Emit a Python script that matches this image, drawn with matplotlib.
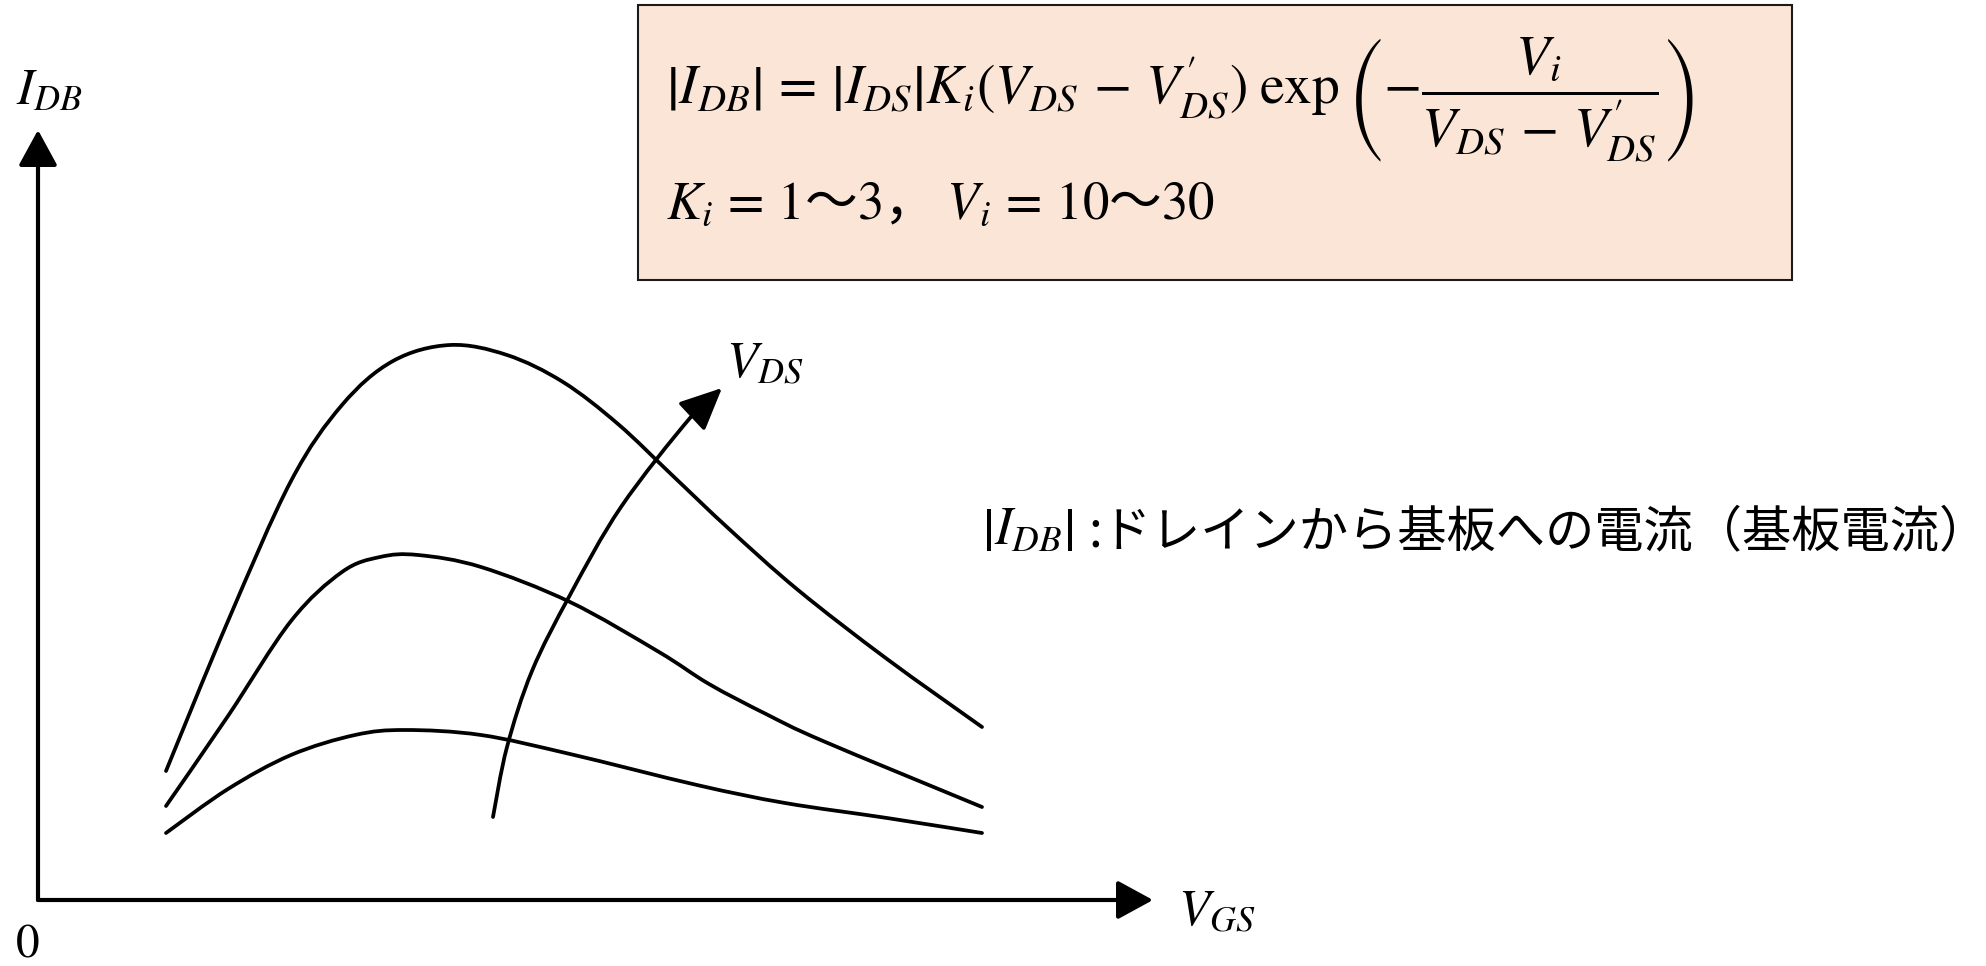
import numpy as np
import matplotlib
matplotlib.use("Agg")
import matplotlib.pyplot as plt
from matplotlib.path import Path
from matplotlib.patches import PathPatch, Rectangle, FancyArrowPatch

plt.rcParams["mathtext.fontset"] = "stix"
plt.rcParams["font.family"] = ["STIXGeneral", "Noto Sans CJK JP", "DejaVu Sans"]

# Substrate-current curves I_DB vs V_GS, one per drain voltage (low -> high)
vgs_low = [12.8, 19.0, 25.3, 31.7, 36.7, 44.3, 53.2, 65.9, 74.7, 84.9, 94.4]
idb_low = [6.7, 11.1, 14.5, 16.5, 17.0, 16.5, 14.6, 11.5, 9.7, 8.2, 6.7]

vgs_mid = [12.8, 19.0, 25.3, 30.4, 34.2, 38.0, 44.3, 53.2, 62.1, 67.1, 72.8, 78.5, 94.4]
idb_mid = [9.4, 18.4, 27.9, 32.8, 34.3, 34.5, 33.3, 29.8, 24.8, 21.6, 18.6, 15.9, 9.3]

vgs_high = [12.8, 19.0, 25.3, 30.4, 35.5, 41.2, 46.9, 52.5, 58.0, 63.5, 69.0, 76.0, 84.9, 94.4]
idb_high = [12.9, 27.9, 41.9, 49.5, 53.9, 55.5, 54.5, 51.8, 47.6, 42.4, 37.2, 31.0, 24.1, 17.3]

# Trend arrow: increasing V_DS
vds_arrow_x = [45.5, 46.9, 49.4, 53.2, 58.3, 65.2, 68.4]
vds_arrow_y = [8.3, 15.3, 22.9, 30.5, 39.3, 48.2, 51.2]

axis_len_x = 111.5
axis_len_y = 77.0

fig = plt.figure(figsize=(19.86, 9.66), dpi=100)
ax = fig.add_axes([0, 0, 1, 1])
ax.set_xlim(-3.8, 194.8)
ax.set_ylim(-6.6, 90.0)
ax.axis("off")


def smooth_path(xs, ys):
    """Cubic Bezier path passing through the given points (Catmull-Rom tangents)."""
    p = np.column_stack([xs, ys]).astype(float)
    n = len(p)
    verts = [p[0]]
    codes = [Path.MOVETO]
    for i in range(n - 1):
        p0 = p[i - 1] if i > 0 else p[i]
        p1 = p[i]
        p2 = p[i + 1]
        p3 = p[i + 2] if i + 2 < n else p[i + 1]
        c1 = p1 + (p2 - p0) / 6.0
        c2 = p2 - (p3 - p1) / 6.0
        verts += [c1, c2, p2]
        codes += [Path.CURVE4] * 3
    return Path(verts, codes)


for xs, ys in [(vgs_low, idb_low), (vgs_mid, idb_mid), (vgs_high, idb_high)]:
    ax.add_patch(PathPatch(smooth_path(xs, ys), fill=False, lw=2.7,
                           edgecolor="black", capstyle="round"))

# curved V_DS arrow
arrow = FancyArrowPatch(path=smooth_path(vds_arrow_x, vds_arrow_y),
                        arrowstyle="-|>,head_length=26,head_width=12",
                        mutation_scale=1, lw=2.7, color="black")
ax.add_patch(arrow)

# coordinate axes
for end in [(axis_len_x, 0), (0, axis_len_y)]:
    ax.add_patch(FancyArrowPatch((0, 0), end,
                                 arrowstyle="-|>,head_length=22,head_width=12",
                                 mutation_scale=1, lw=3.0, color="black",
                                 shrinkA=0, shrinkB=0))

ax.text(-2.2, 80.8, r"$I_{DB}$", fontsize=37, va="center", ha="left")
ax.text(-1.0, -4.6, "0", fontsize=34, va="center", ha="center")
ax.text(114.0, -1.3, r"$V_{GS}$", fontsize=37, va="center", ha="left")
ax.text(68.8, 53.5, r"$V_{DS}$", fontsize=37, va="center", ha="left")

# description of I_DB
ax.text(94.4, 36.8, r"$\left|I_{DB}\right|$", fontsize=38, va="center", ha="left")
ax.text(105.0, 36.8, ":ドレインから基板への電流（基板電流）",
        fontsize=35.5, va="center", ha="left",
        family=["Noto Sans CJK JP", "DejaVu Sans"])

# formula box
ax.add_patch(Rectangle((60.0, 62.0), 115.4, 27.5, facecolor="#FBE5D6",
                       edgecolor="#1a1a1a", lw=1.5))
ax.text(62.8, 80.0,
        r"$\left|I_{DB}\right|\,=\,\left|I_{DS}\right|K_i(V_{DS}\,-\,V^{\prime}_{DS})\;\exp\left(-\dfrac{V_i}{V_{DS}\,-\,V^{\prime}_{DS}}\right)$",
        fontsize=40, va="center", ha="left")
ax.text(62.8, 69.7, r"$K_i\,=\,1$〜$3$，$\;V_i\,=\,10$〜$30$",
        fontsize=38, va="center", ha="left",
        family=["Noto Sans CJK JP", "DejaVu Sans"])

fig.savefig("out.png", dpi=100)
